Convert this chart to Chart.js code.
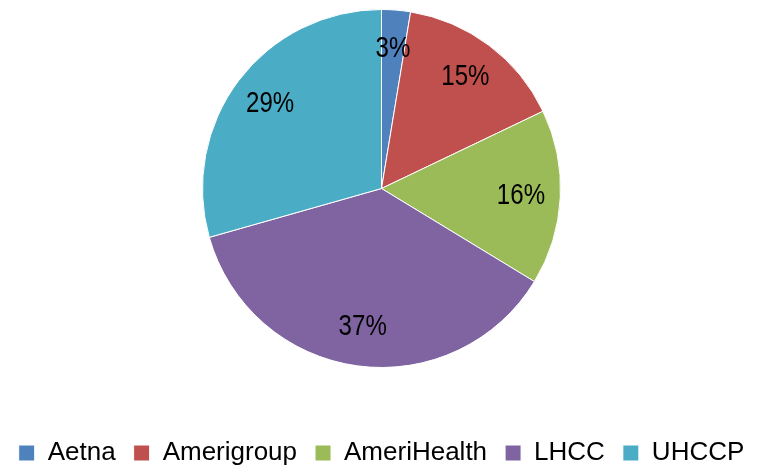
<!DOCTYPE html>
<html>
<head>
<meta charset="utf-8">
<script src="https://cdn.jsdelivr.net/npm/chart.js@4/dist/chart.umd.min.js"></script>
<style>
  html, body { margin: 0; padding: 0; background: #fff; }
  #wrap { width: 763px; height: 468px; }
</style>
</head>
<body>
<div id="wrap"><canvas id="pieChart"></canvas></div>
<script>
// Share by plan
const plans = ['Aetna', 'Amerigroup', 'AmeriHealth', 'LHCC', 'UHCCP'];
const shares = [2.6, 15.3, 15.8, 36.9, 29.4];
const sliceColors = ['#4F81BD', '#C0504D', '#9BBB59', '#8064A2', '#4BACC6'];

// Percent labels inside the slices (narrow face, so squeeze Liberation Sans a bit)
const sliceLabels = {
  id: 'sliceLabels',
  afterDatasetsDraw(chart) {
    const ctx = chart.ctx;
    const meta = chart.getDatasetMeta(0);
    const total = shares.reduce((a, b) => a + b, 0);
    meta.data.forEach((arc, i) => {
      const p = arc.getProps(['x', 'y', 'startAngle', 'endAngle', 'outerRadius'], true);
      const mid = (p.startAngle + p.endAngle) / 2;
      const r = p.outerRadius * 0.78;
      const txt = Math.round(shares[i] / total * 100) + '%';
      ctx.save();
      ctx.translate(p.x + Math.cos(mid) * r, p.y + Math.sin(mid) * r);
      ctx.scale(0.83, 1);
      ctx.font = '29px "Liberation Sans", Arial, sans-serif';
      ctx.fillStyle = '#000';
      ctx.textAlign = 'center';
      ctx.textBaseline = 'middle';
      ctx.fillText(txt, 0, 0);
      ctx.restore();
    });
  }
};

// push legend a bit lower than chart.js would place it
const legendShift = {
  id: 'legendShift',
  afterLayout(chart) {
    if (chart.legend) {
      chart.legend.top += 8;
      chart.legend.bottom += 8;
    }
  }
};

new Chart(document.getElementById('pieChart'), {
  type: 'pie',
  data: {
    labels: plans,
    datasets: [{
      data: shares,
      backgroundColor: sliceColors,
      borderColor: '#ffffff',
      borderWidth: 1
    }]
  },
  options: {
    responsive: true,
    maintainAspectRatio: false,
    animation: false,
    layout: { padding: { top: 9, bottom: 0, left: 0, right: 0 } },
    plugins: {
      tooltip: { enabled: false },
      legend: {
        display: true,
        position: 'bottom',
        title: {
          display: true,
          text: ' ',
          font: { size: 12 },
          padding: { top: 16, bottom: 15.6 }
        },
        labels: {
          boxWidth: 16,
          boxHeight: 16,
          padding: 18,
          color: '#000',
          font: { family: '"Liberation Sans", Arial, sans-serif', size: 26 }
        }
      }
    }
  },
  plugins: [sliceLabels, legendShift]
});
</script>
</body>
</html>
